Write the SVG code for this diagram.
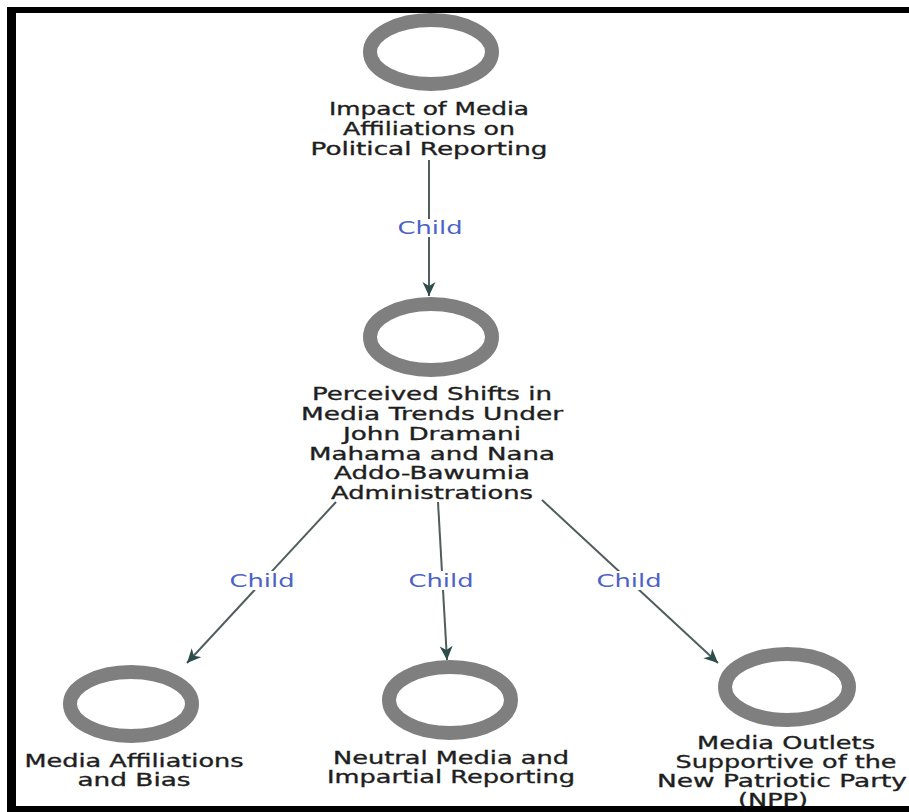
<svg xmlns="http://www.w3.org/2000/svg" width="909" height="812" viewBox="0 0 909 812">
<defs>
<style>
.node ellipse{fill:none;stroke:#7f7f7f;stroke-width:14}
.node text{font-family:"DejaVu Sans","Liberation Sans",sans-serif;font-size:18px;fill:#1e1e1e;stroke:#1e1e1e;stroke-width:0.35;text-anchor:middle}
.edge line{stroke:#4f5d5c;stroke-width:2}
.edge rect{fill:#ffffff}
.edge text{font-family:"DejaVu Sans","Liberation Sans",sans-serif;font-size:18px;fill:#4b63c6;text-anchor:middle}
</style>
<marker id="arr" markerUnits="userSpaceOnUse" markerWidth="16" markerHeight="14" refX="14" refY="6.5" orient="auto">
<path d="M0,0 L14,6.5 L0,13 L4,6.5 z" fill="#2d4d4a"/>
</marker>
</defs>
<rect x="0" y="0" width="909" height="812" fill="#ffffff"/>
<g id="frame">
<rect x="7" y="7" width="902" height="6" fill="#000"/>
<rect x="7" y="7" width="9" height="805" fill="#000"/>
</g>
<g id="connectors">
<g class="edge">
<line x1="429" y1="160" x2="429" y2="296" marker-end="url(#arr)"/>
<rect x="396" y="219" width="67" height="18"/>
<text x="430" y="234" textLength="65" lengthAdjust="spacingAndGlyphs">Child</text>
</g>
<g class="edge">
<line x1="336" y1="502" x2="187" y2="663" marker-end="url(#arr)"/>
<rect x="228" y="571" width="68" height="19"/>
<text x="262" y="587" textLength="65" lengthAdjust="spacingAndGlyphs">Child</text>
</g>
<g class="edge">
<line x1="438" y1="502" x2="447" y2="660" marker-end="url(#arr)"/>
<rect x="408" y="571" width="67" height="19"/>
<text x="441" y="587" textLength="65" lengthAdjust="spacingAndGlyphs">Child</text>
</g>
<g class="edge">
<line x1="542" y1="500" x2="718" y2="663" marker-end="url(#arr)"/>
<rect x="596" y="571" width="67" height="19"/>
<text x="629" y="587" textLength="65" lengthAdjust="spacingAndGlyphs">Child</text>
</g>
</g>
<g id="node-impact" class="node">
<ellipse cx="431" cy="52" rx="61" ry="32"/>
<text x="429" y="115" textLength="200" lengthAdjust="spacingAndGlyphs">Impact of Media</text>
<text x="429" y="135" textLength="172" lengthAdjust="spacingAndGlyphs">Affiliations on</text>
<text x="429" y="155" textLength="237" lengthAdjust="spacingAndGlyphs">Political Reporting</text>
</g>
<g id="node-shifts" class="node">
<ellipse cx="431" cy="337" rx="61" ry="33"/>
<text x="432" y="400" textLength="240" lengthAdjust="spacingAndGlyphs">Perceived Shifts in</text>
<text x="432" y="420" textLength="262" lengthAdjust="spacingAndGlyphs">Media Trends Under</text>
<text x="432" y="440" textLength="178" lengthAdjust="spacingAndGlyphs">John Dramani</text>
<text x="432" y="460" textLength="246" lengthAdjust="spacingAndGlyphs">Mahama and Nana</text>
<text x="432" y="479" textLength="196" lengthAdjust="spacingAndGlyphs">Addo-Bawumia</text>
<text x="432" y="499" textLength="202" lengthAdjust="spacingAndGlyphs">Administrations</text>
</g>
<g id="node-bias" class="node">
<ellipse cx="131" cy="704" rx="61" ry="32"/>
<text x="134" y="767" textLength="219" lengthAdjust="spacingAndGlyphs">Media Affiliations</text>
<text x="134" y="786" textLength="113" lengthAdjust="spacingAndGlyphs">and Bias</text>
</g>
<g id="node-neutral" class="node">
<ellipse cx="450" cy="700" rx="61" ry="33"/>
<text x="451" y="764" textLength="236" lengthAdjust="spacingAndGlyphs">Neutral Media and</text>
<text x="451" y="783" textLength="248" lengthAdjust="spacingAndGlyphs">Impartial Reporting</text>
</g>
<g id="node-npp" class="node">
<ellipse cx="787" cy="687" rx="62" ry="33"/>
<text x="786" y="749" textLength="178" lengthAdjust="spacingAndGlyphs">Media Outlets</text>
<text x="786" y="768" textLength="221" lengthAdjust="spacingAndGlyphs">Supportive of the</text>
<text x="782" y="787" textLength="250" lengthAdjust="spacingAndGlyphs">New Patriotic Party</text>
<text x="773" y="806" textLength="70" lengthAdjust="spacingAndGlyphs">(NPP)</text>
</g>
<rect id="frame-bottom" x="7" y="806" width="902" height="6" fill="#000"/>
</svg>
